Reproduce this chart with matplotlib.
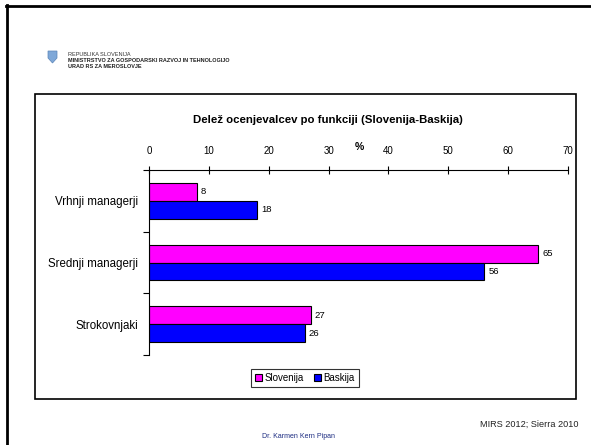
import matplotlib
matplotlib.use("Agg")
import matplotlib.pyplot as plt
from matplotlib.patches import Rectangle, Polygon
from matplotlib.lines import Line2D
import numpy as np

plt.rcParams['font.family'] = ['Liberation Sans', 'DejaVu Sans']

categories = ["Vrhnji managerji", "Srednji managerji", "Strokovnjaki"]
slovenija = [8, 65, 27]
baskija = [18, 56, 26]
series_names = ["Slovenija", "Baskija"]
xticks = [0, 10, 20, 30, 40, 50, 60, 70]
title = "Delež ocenjevalcev po funkciji (Slovenija-Baskija)"

W, H = 591, 445
fig = plt.figure(figsize=(W/100, H/100), dpi=100)

def fx(x): return x / W
def fy(y): return 1 - y / H

# slide frame
fig.add_artist(Line2D([fx(7), fx(7)], [fy(5), fy(445)], color='black', lw=2.0, transform=fig.transFigure))
fig.add_artist(Line2D([fx(6), fx(591)], [fy(6), fy(6)], color='black', lw=2.0, transform=fig.transFigure))

# header
shield = Polygon([[fx(48), fy(51)], [fx(57), fy(51)], [fx(57), fy(58)], [fx(52.5), fy(63)], [fx(48), fy(58)]],
                 closed=True, transform=fig.transFigure, facecolor='#7fa8d8', edgecolor='#5a84b8', lw=0.5)
fig.add_artist(shield)
fig.text(fx(68), fy(54), "REPUBLIKA SLOVENIJA", fontsize=4.0, color='#333333', va='center', ha='left')
fig.text(fx(68), fy(60.5), "MINISTRSTVO ZA GOSPODARSKI RAZVOJ IN TEHNOLOGIJO", fontsize=4.0, fontweight='bold', color='#222222', va='center', ha='left')
fig.text(fx(68), fy(66), "URAD RS ZA MEROSLOVJE", fontsize=4.0, fontweight='bold', color='#222222', va='center', ha='left')

# chart box
fig.add_artist(Rectangle((fx(35), fy(399)), fx(576) - fx(35), fy(94) - fy(399), transform=fig.transFigure,
                         facecolor='none', edgecolor='black', lw=1.2))

fig.text(fx(328), fy(120), title, fontsize=8.2, fontweight='bold', ha='center', va='center')

ax = fig.add_axes([fx(149), fy(355), fx(568) - fx(149), fy(170) - fy(355)])
y = np.arange(len(categories))
h = 0.29
b1 = ax.barh(y - h/2, slovenija, height=h, color='#FF00FF', edgecolor='black', lw=0.8, label=series_names[0])
b2 = ax.barh(y + h/2, baskija, height=h, color='#0000FF', edgecolor='black', lw=0.8, label=series_names[1])
for bars, vals in ((b1, slovenija), (b2, baskija)):
    for bar, v in zip(bars, vals):
        ax.text(v + 0.7, bar.get_y() + bar.get_height()/2, str(v), fontsize=6.8, va='center', ha='left')

ax.set_xlim(0, 70)
ax.set_ylim(2.5, -0.5)
ax.xaxis.tick_top()
ax.set_xticks(xticks)
ax.set_xticklabels([str(t) for t in xticks], fontsize=7)
ax.tick_params(axis='x', direction='inout', length=6, width=0.8, pad=7)
ax.set_yticks(y)
ax.set_yticklabels(categories, fontsize=8.3)
ax.tick_params(axis='y', which='major', length=0, pad=8)
ax.set_yticks([-0.5, 0.5, 1.5, 2.5], minor=True)
ax.tick_params(axis='y', which='minor', direction='out', length=4, width=0.8)
for s in ('right', 'bottom'):
    ax.spines[s].set_visible(False)
for s in ('top', 'left'):
    ax.spines[s].set_linewidth(0.8)
ax.text(fx(359 - 149) / (fx(568) - fx(149)), 1 + (170 - 147) / (355 - 170), "%", transform=ax.transAxes,
        fontsize=7.5, fontweight='bold', ha='center', va='center')

leg = fig.legend(handles=[b1, b2], labels=series_names, loc='center', bbox_to_anchor=(fx(305), fy(378)),
                 ncol=2, fontsize=7, frameon=True, fancybox=False, edgecolor='black',
                 handlelength=0.7, handleheight=0.7, handletextpad=0.3, columnspacing=1.0,
                 borderpad=0.4, borderaxespad=0)
leg.get_frame().set_linewidth(0.8)

# footer
fig.text(fx(298), fy(437), "Dr. Karmen Kern Pipan", fontsize=5, color='#1a2a80', ha='center', va='center')
fig.text(fx(578), fy(424), "MIRS 2012; Sierra 2010", fontsize=6.6, color='#222222', ha='right', va='center')

fig.savefig("out.png", dpi=100)
